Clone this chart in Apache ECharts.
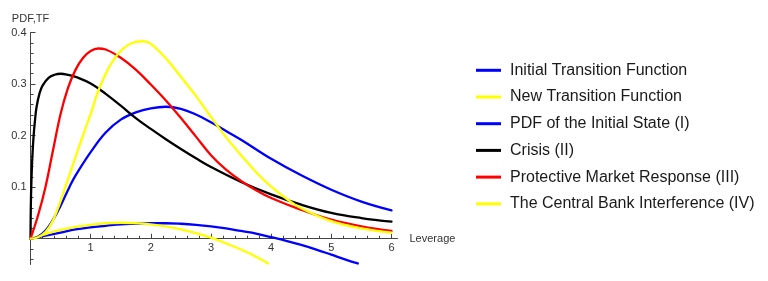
<!DOCTYPE html>
<html><head><meta charset="utf-8">
<script src="https://cdn.jsdelivr.net/npm/echarts@6/dist/echarts.min.js"></script>
<style>html,body{margin:0;padding:0;background:#fff}#c{width:768px;height:281px}</style>
</head><body><div id="c"></div>
<script>
// ---- data ----
const seriesNames = ['Initial Transition Function','New Transition Function','PDF of the Initial State (I)','Crisis (II)','Protective Market Response (III)','The Central Bank Interference (IV)'];
const seriesColors = ['#0000ff','#ffff00','#0000ff','#000000','#ff0000','#ffff00'];
const xTickLabels = [1,2,3,4,5,6];
const yTickLabels = [0.1,0.2,0.3,0.4];

const tfInitX = [0,0.25,0.5,0.75,1,1.25,1.5,1.75,2,2.25,2.5,2.75,3,3.25,3.5,3.75,4,4.25,4.5,4.75,5,5.25,5.44];
const tfInitY = [0,0.006,0.012,0.018,0.022,0.025,0.028,0.029,0.030,0.030,0.029,0.027,0.024,0.020,0.015,0.010,0.003,-0.004,-0.012,-0.021,-0.031,-0.041,-0.048];

const tfNewX = [0,0.25,0.5,0.75,1,1.25,1.5,1.75,2,2.25,2.5,2.75,3,3.25,3.5,3.75,3.95];
const tfNewY = [0,0.009,0.017,0.023,0.027,0.030,0.031,0.030,0.028,0.024,0.018,0.011,0.002,-0.009,-0.021,-0.035,-0.048];

const pdfInitX = [0,0.125,0.25,0.375,0.5,0.65,0.75,1,1.25,1.5,1.75,2,2.25,2.5,2.75,3,3.25,3.5,4,4.5,5,5.5,6];
const pdfInitY = [0,0.004,0.016,0.037,0.064,0.101,0.123,0.168,0.206,0.231,0.245,0.253,0.256,0.252,0.241,0.226,0.209,0.192,0.155,0.123,0.095,0.072,0.055];

const crisisX = [0,0.005,0.015,0.03,0.05,0.075,0.1,0.15,0.2,0.3,0.4,0.5,0.625,0.75,1,1.25,1.5,1.75,2,2.25,2.5,2.75,3,3.5,4,4.5,5,5.5,6];
const crisisY = [0,0.06,0.111,0.157,0.197,0.23,0.255,0.282,0.297,0.312,0.318,0.320,0.318,0.314,0.301,0.281,0.258,0.234,0.213,0.193,0.174,0.156,0.139,0.110,0.086,0.066,0.050,0.040,0.033];

const protX = [0,0.125,0.25,0.375,0.5,0.625,0.75,0.875,1,1.125,1.25,1.5,1.75,2,2.25,2.5,2.75,3,3.25,3.5,3.75,4,4.5,5,5.5,6];
const protY = [0,0.045,0.101,0.172,0.242,0.293,0.328,0.351,0.364,0.369,0.367,0.351,0.328,0.299,0.268,0.234,0.198,0.162,0.134,0.112,0.094,0.079,0.056,0.037,0.024,0.015];

const cbX = [0,0.125,0.25,0.375,0.5,0.625,0.75,0.875,1,1.125,1.25,1.375,1.5,1.625,1.75,1.875,2,2.25,2.5,2.75,3,3.25,3.5,3.75,4,4.25,4.5,5,5.5,6];
const cbY = [0,0.003,0.013,0.036,0.073,0.116,0.159,0.201,0.242,0.286,0.320,0.346,0.364,0.376,0.382,0.383,0.378,0.350,0.314,0.277,0.236,0.197,0.162,0.129,0.101,0.078,0.059,0.034,0.020,0.012];

// ---- chart ----
const xs = [tfInitX, tfNewX, pdfInitX, crisisX, protX, cbX];
const ys = [tfInitY, tfNewY, pdfInitY, crisisY, protY, cbY];
const FONT = 'Liberation Sans, Arial, sans-serif';
const series = seriesNames.map((name, i) => ({
  name, type: 'line', showSymbol: false, symbol: 'none', smooth: 0.4,
  color: seriesColors[i], lineStyle: { width: 2.3, color: seriesColors[i], cap: 'round', join: 'round' },
  data: xs[i].map((x, j) => [x, ys[i][j]]), z: 2 + i, silent: true
}));

const chart = echarts.init(document.getElementById('c'), null, { renderer: 'canvas' });
chart.setOption({
  animation: false,
  backgroundColor: '#fff',
  grid: { left: 30.5, top: 32.5, width: 367, height: 232 },
  xAxis: {
    type: 'value', min: 0, max: 6.1, interval: 1,
    name: 'Leverage', nameLocation: 'end', nameGap: 12,
    nameTextStyle: { fontFamily: FONT, fontSize: 11, color: '#333', align: 'left', verticalAlign: 'middle' },
    axisLine: { onZero: true, lineStyle: { color: '#444', width: 1 } },
    axisTick: { show: true, inside: true, length: 5, customValues: xTickLabels, lineStyle: { color: '#444' } },
    minorTick: { show: true, splitNumber: 5, length: 3, lineStyle: { color: '#444' } },
    axisLabel: { customValues: xTickLabels, fontFamily: FONT, fontSize: 11, color: '#333', margin: -21.8 },
    splitLine: { show: false }
  },
  yAxis: {
    type: 'value', min: -0.05, max: 0.4,
    name: 'PDF,TF', nameLocation: 'end', nameGap: 8,
    nameTextStyle: { fontFamily: FONT, fontSize: 11, color: '#333' },
    axisLine: { show: true, onZero: true, lineStyle: { color: '#444', width: 1 } },
    axisTick: { show: true, inside: true, length: 5, customValues: yTickLabels, lineStyle: { color: '#444' } },
    minorTick: { show: true, splitNumber: 5, length: 3, lineStyle: { color: '#444' } },
    axisLabel: { customValues: yTickLabels, formatter: v => v.toFixed(1), fontFamily: FONT, fontSize: 11, color: '#333', margin: 4 },
    splitLine: { show: false }
  },
  legend: {
    orient: 'vertical', left: 476, top: 62.3, padding: 0,
    itemWidth: 25, itemHeight: 3, itemGap: 10.7, icon: 'rect', selectedMode: false,
    textStyle: { fontFamily: FONT, fontSize: 16, color: '#1a1a1a', lineHeight: 16, padding: [0, 0, 0, 4] },
    data: seriesNames.map((n, i) => ({ name: n, itemStyle: { color: seriesColors[i] } }))
  },
  series
});
</script></body></html>
